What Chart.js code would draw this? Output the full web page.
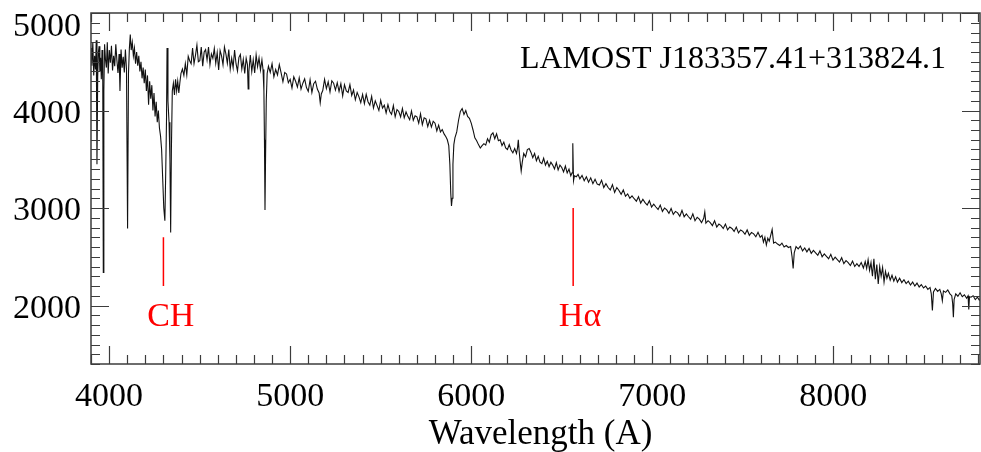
<!DOCTYPE html>
<html>
<head>
<meta charset="utf-8">
<script src="https://cdn.jsdelivr.net/npm/chart.js@4.4.1/dist/chart.umd.min.js"></script>
<style>
html, body { margin: 0; padding: 0; background: #fff; }
</style>
</head>
<body>
<canvas id="spec" width="981" height="452"></canvas>
<script>
// Spectrum: wavelength (A) and flux
const wavelength = [
  3900, 3905, 3910, 3915, 3920, 3925, 3929, 3933, 3937, 3941, 3945, 3949, 3953, 3957, 3961, 3965, 3968, 3971, 3975, 3980,
  3985, 3990, 3995, 4001, 4007, 4013, 4019, 4025, 4031, 4037, 4043, 4049, 4055, 4060, 4066, 4072, 4078, 4084, 4090, 4096,
  4102, 4107, 4112, 4117, 4122, 4128, 4134, 4140, 4146, 4152, 4158, 4164, 4170, 4176, 4182, 4188, 4194, 4200, 4206, 4212,
  4218, 4224, 4230, 4236, 4242, 4248, 4254, 4260, 4266, 4272, 4278, 4284, 4290, 4296, 4302, 4308, 4313, 4317, 4320, 4325,
  4331, 4336, 4340, 4344, 4349, 4355, 4361, 4367, 4373, 4379, 4385, 4391, 4397, 4405, 4413, 4421, 4429, 4437, 4445, 4453,
  4461, 4469, 4477, 4485, 4493, 4501, 4509, 4517, 4525, 4533, 4541, 4549, 4557, 4565, 4573, 4581, 4589, 4597, 4605, 4613,
  4621, 4629, 4637, 4645, 4653, 4661, 4669, 4677, 4685, 4693, 4701, 4709, 4717, 4725, 4733, 4741, 4749, 4757, 4764, 4768,
  4772, 4780, 4788, 4796, 4804, 4812, 4820, 4828, 4836, 4844, 4850, 4855, 4858, 4861, 4864, 4868, 4873, 4880, 4890, 4900,
  4910, 4920, 4930, 4940, 4950, 4960, 4970, 4980, 4990, 5000, 5010, 5020, 5030, 5040, 5050, 5060, 5070, 5080, 5090, 5100,
  5110, 5120, 5130, 5140, 5150, 5160, 5166, 5172, 5180, 5190, 5200, 5210, 5220, 5230, 5240, 5250, 5260, 5270, 5280, 5290,
  5300, 5310, 5320, 5330, 5340, 5350, 5360, 5370, 5380, 5390, 5400, 5410, 5420, 5430, 5440, 5450, 5460, 5470, 5480, 5490,
  5500, 5510, 5520, 5530, 5540, 5550, 5560, 5570, 5580, 5590, 5600, 5610, 5620, 5630, 5640, 5650, 5660, 5670, 5680, 5690,
  5700, 5710, 5720, 5730, 5740, 5750, 5760, 5770, 5780, 5790, 5800, 5810, 5820, 5830, 5840, 5850, 5860, 5868, 5876, 5882,
  5887, 5891, 5895, 5899, 5904, 5910, 5920, 5930, 5940, 5950, 5960, 5970, 5980, 5990, 6000, 6010, 6020, 6030, 6040, 6050,
  6060, 6070, 6080, 6090, 6100, 6110, 6120, 6130, 6140, 6150, 6160, 6170, 6180, 6190, 6200, 6210, 6220, 6230, 6240, 6250,
  6256, 6260, 6264, 6270, 6276, 6282, 6290, 6300, 6310, 6320, 6330, 6340, 6350, 6360, 6370, 6380, 6390, 6400, 6410, 6420,
  6430, 6440, 6450, 6460, 6470, 6480, 6490, 6500, 6510, 6520, 6530, 6540, 6550, 6557, 6561, 6565, 6570, 6580, 6590, 6600,
  6612, 6624, 6636, 6648, 6660, 6672, 6684, 6696, 6708, 6720, 6732, 6744, 6756, 6768, 6780, 6792, 6804, 6816, 6828, 6840,
  6852, 6864, 6876, 6888, 6900, 6912, 6924, 6936, 6948, 6960, 6972, 6984, 6996, 7008, 7020, 7032, 7044, 7056, 7068, 7080,
  7092, 7104, 7116, 7128, 7140, 7152, 7164, 7176, 7188, 7200, 7212, 7224, 7236, 7248, 7260, 7272, 7284, 7290, 7296, 7308,
  7320, 7332, 7344, 7356, 7368, 7380, 7392, 7404, 7416, 7428, 7440, 7452, 7464, 7476, 7488, 7500, 7512, 7524, 7536, 7548,
  7560, 7572, 7584, 7596, 7606, 7614, 7622, 7630, 7638, 7646, 7654, 7662, 7670, 7680, 7692, 7704, 7716, 7728, 7740, 7752,
  7764, 7772, 7778, 7784, 7794, 7806, 7818, 7830, 7842, 7854, 7866, 7878, 7890, 7902, 7914, 7926, 7938, 7950, 7962, 7974,
  7986, 7998, 8010, 8022, 8034, 8046, 8058, 8070, 8082, 8094, 8106, 8118, 8130, 8142, 8154, 8166, 8176, 8184, 8192, 8200,
  8208, 8216, 8224, 8232, 8240, 8248, 8256, 8264, 8272, 8280, 8288, 8296, 8304, 8314, 8324, 8334, 8344, 8354, 8366, 8378,
  8390, 8402, 8414, 8426, 8438, 8450, 8462, 8474, 8486, 8498, 8510, 8522, 8534, 8541, 8547, 8553, 8564, 8576, 8588, 8596,
  8602, 8608, 8620, 8632, 8644, 8654, 8659, 8663, 8667, 8676, 8688, 8700, 8712, 8724, 8736, 8744, 8748, 8752, 8760, 8772,
  8784, 8796, 8806, 8810
];
const flux = [
  4640, 4460, 4700, 4360, 4560, 4420, 4720, 3450, 4340, 4600, 4660, 4400, 4540, 4320, 4620, 4300, 2340, 4200, 4680, 4520,
  4440, 4700, 4380, 4620, 4490, 4665, 4410, 4560, 4455, 4680, 4515, 4385, 4580, 4200, 4625, 4440, 4550, 4390, 4625, 4420,
  2790, 4380, 4640, 4780, 4620, 4700, 4560, 4640, 4480, 4600, 4460, 4560, 4400, 4500, 4330, 4440, 4280, 4420, 4200, 4360,
  4060, 4300, 4120, 4260, 4000, 4180, 3940, 4090, 3880, 4000, 3820, 3740, 3600, 3300, 3000, 2870, 3400, 3900, 4640, 4100,
  3880, 3500, 2750, 3600, 4200, 4280, 4160, 4320, 4200, 4300, 4180, 4290, 4380, 4425, 4360, 4480, 4365, 4555, 4510, 4480,
  4640, 4480, 4565, 4670, 4500, 4510, 4650, 4455, 4600, 4625, 4520, 4650, 4470, 4580, 4535, 4635, 4485, 4595, 4415, 4615,
  4560, 4470, 4650, 4580, 4485, 4625, 4425, 4535, 4440, 4620, 4480, 4405, 4545, 4575, 4425, 4525, 4380, 4535, 4470, 4220,
  4400, 4570, 4400, 4520, 4385, 4570, 4450, 4540, 4415, 4520, 4420, 4200, 3700, 2980, 3500, 4100, 4380, 4455, 4390, 4480,
  4345, 4420, 4365, 4470, 4385, 4295, 4390, 4375, 4285, 4320, 4230, 4345, 4300, 4240, 4335, 4220, 4280, 4325, 4235, 4195,
  4315, 4185, 4275, 4300, 4220, 4180, 4080, 4170, 4205, 4320, 4225, 4295, 4190, 4305, 4280, 4210, 4285, 4195, 4275, 4150,
  4265, 4200, 4185, 4265, 4155, 4210, 4110, 4185, 4140, 4080, 4165, 4070, 4165, 4090, 4055, 4145, 4025, 4100, 4050, 4000,
  4105, 4025, 4055, 3975, 4060, 3990, 3960, 4050, 3935, 4010, 3990, 3935, 4020, 3925, 3985, 3940, 3905, 3995, 3900, 3945,
  3935, 3870, 3965, 3855, 3925, 3915, 3835, 3900, 3830, 3890, 3870, 3790, 3850, 3780, 3805, 3760, 3730, 3700, 3640, 3450,
  3150, 3020, 3100, 3450, 3650, 3720, 3780, 3900, 3990, 4020, 3960, 4000, 3940, 3920, 3870, 3800, 3720, 3690, 3650, 3615,
  3640, 3660, 3645, 3710, 3675, 3750, 3770, 3710, 3760, 3690, 3700, 3640, 3675, 3615, 3600, 3650, 3595, 3565, 3610, 3560,
  3620, 3700, 3600, 3480, 3380, 3470, 3560, 3525, 3600, 3610, 3570, 3515, 3560, 3485, 3530, 3470, 3455, 3510, 3440, 3480,
  3425, 3470, 3440, 3400, 3465, 3390, 3440, 3415, 3370, 3430, 3360, 3400, 3330, 3360, 3663, 3280, 3330, 3320, 3345, 3300,
  3335, 3280, 3320, 3265, 3310, 3250, 3295, 3245, 3235, 3285, 3210, 3250, 3210, 3185, 3240, 3160, 3210, 3180, 3140, 3185,
  3120, 3145, 3100, 3125, 3095, 3070, 3115, 3050, 3090, 3055, 3030, 3075, 3010, 3040, 3010, 2985, 3030, 2965, 3000, 2980,
  2945, 2995, 2935, 2965, 2950, 2915, 2975, 2910, 2940, 2910, 2885, 2940, 2870, 2905, 2885, 2850, 2895, 2960, 2845, 2870,
  2850, 2820, 2870, 2805, 2835, 2820, 2790, 2835, 2775, 2805, 2790, 2760, 2805, 2745, 2775, 2760, 2730, 2775, 2720, 2750,
  2735, 2705, 2750, 2700, 2720, 2650, 2700, 2620, 2690, 2660, 2720, 2780, 2640, 2650, 2630, 2615, 2640, 2600, 2615, 2595,
  2605, 2500, 2380, 2540, 2605, 2580, 2610, 2560, 2590, 2550, 2585, 2535, 2565, 2540, 2515, 2560, 2500, 2530, 2505, 2480,
  2525, 2465, 2495, 2470, 2445, 2490, 2430, 2460, 2440, 2410, 2455, 2400, 2430, 2400, 2440, 2385, 2450, 2380, 2470, 2360,
  2440, 2300, 2480, 2270, 2420, 2220, 2400, 2300, 2390, 2240, 2350, 2280, 2330, 2260, 2310, 2250, 2295, 2240, 2280, 2235,
  2265, 2225, 2250, 2210, 2240, 2200, 2230, 2190, 2215, 2180, 2200, 2165, 2185, 2120, 1950, 2140, 2175, 2145, 2165, 2120,
  2050, 2150, 2135, 2160, 2120, 2100, 2020, 1880, 2060, 2120, 2095, 2130, 2090, 2110, 2075, 2100, 1960, 2090, 2085, 2100,
  2060, 2085, 2055, 2070
];

const xTickLabels = [4000, 5000, 6000, 7000, 8000];
const yTickLabels = [2000, 3000, 4000, 5000];
const xMinorStep = 100;
const yMinorStep = 100;

// marked features: name, wavelength, top and bottom of the marker, label spot
const featureNames = ['CH', 'Hα'];
const featureWave = [4300, 6563];
const featureTop = [2700, 3000];
const featureBottom = [2200, 2200];
const featureLabelWave = [4210, 6484];
const featureLabelFlux = 1785;

const starName = 'LAMOST J183357.41+313824.1';
const xTitle = 'Wavelength (A)';

const SERIF = "'Liberation Serif', 'Times New Roman', serif";
const RED = '#ff0000';

const specPoints = wavelength.map((w, i) => ({ x: w, y: flux[i] }));

const featureSets = featureNames.map((name, i) => ({
  label: name,
  data: [{ x: featureWave[i], y: featureTop[i] }, { x: featureWave[i], y: featureBottom[i] }],
  borderColor: RED,
  borderWidth: 1.5,
  pointRadius: 0
}));

// IDL-like frame: box, inward ticks on all four sides, labels and texts
const idlFrame = {
  id: 'idlFrame',
  afterDraw(chart) {
    const { ctx, chartArea: a, scales: { x, y } } = chart;
    ctx.save();
    ctx.strokeStyle = '#3c3c3c';
    ctx.lineWidth = 1.5;
    ctx.strokeRect(a.left, a.top, a.right - a.left, a.bottom - a.top);

    ctx.lineWidth = 1.2;
    ctx.beginPath();
    for (let v = Math.ceil(x.min / xMinorStep) * xMinorStep; v <= x.max; v += xMinorStep) {
      const len = xTickLabels.includes(v) ? 18 : 9;
      const px = Math.round(x.getPixelForValue(v)) + 0.5;
      ctx.moveTo(px, a.bottom); ctx.lineTo(px, a.bottom - len);
      ctx.moveTo(px, a.top); ctx.lineTo(px, a.top + len);
    }
    for (let v = Math.ceil(y.min / yMinorStep) * yMinorStep; v <= y.max; v += yMinorStep) {
      const len = yTickLabels.includes(v) ? 18 : 9;
      const py = Math.round(y.getPixelForValue(v)) + 0.5;
      ctx.moveTo(a.left, py); ctx.lineTo(a.left + len, py);
      ctx.moveTo(a.right, py); ctx.lineTo(a.right - len, py);
    }
    ctx.stroke();

    ctx.fillStyle = '#000';
    ctx.font = '34px ' + SERIF;
    ctx.textBaseline = 'alphabetic';
    ctx.textAlign = 'right';
    yTickLabels.forEach(v => {
      const py = Math.max(y.getPixelForValue(v), a.top + 11);
      ctx.fillText(String(v), a.left - 10, py + 12);
    });
    ctx.textAlign = 'center';
    xTickLabels.forEach(v => {
      ctx.fillText(String(v), x.getPixelForValue(v), a.bottom + 42);
    });
    ctx.font = '35px ' + SERIF;
    ctx.fillText(xTitle, (a.left + a.right) / 2 + 5, a.bottom + 80);

    ctx.font = '32px ' + SERIF;
    ctx.textAlign = 'right';
    ctx.fillText(starName, a.right - 34, a.top + 55);

    ctx.fillStyle = RED;
    ctx.font = '34px ' + SERIF;
    ctx.textAlign = 'left';
    featureNames.forEach((name, i) => {
      ctx.fillText(name, x.getPixelForValue(featureLabelWave[i]), y.getPixelForValue(featureLabelFlux));
    });
    ctx.restore();
  }
};

new Chart(document.getElementById('spec'), {
  type: 'line',
  data: {
    datasets: [{
      label: 'spectrum',
      data: specPoints,
      borderColor: '#111',
      borderWidth: 1.1,
      pointRadius: 0,
      tension: 0
    }, ...featureSets]
  },
  options: {
    responsive: false,
    animation: false,
    devicePixelRatio: 1,
    layout: { padding: { top: 13, right: 1, left: 0, bottom: 0 } },
    plugins: { legend: { display: false }, tooltip: { enabled: false } },
    scales: {
      x: {
        type: 'linear',
        min: 3900,
        max: 8810,
        afterFit(s) { s.height = 88; },
        grid: { display: false, drawTicks: false },
        border: { display: false },
        ticks: { display: false }
      },
      y: {
        type: 'linear',
        min: 1400,
        max: 5000,
        afterFit(s) { s.width = 91; },
        grid: { display: false, drawTicks: false },
        border: { display: false },
        ticks: { display: false }
      }
    }
  },
  plugins: [idlFrame]
});
</script>
</body>
</html>
